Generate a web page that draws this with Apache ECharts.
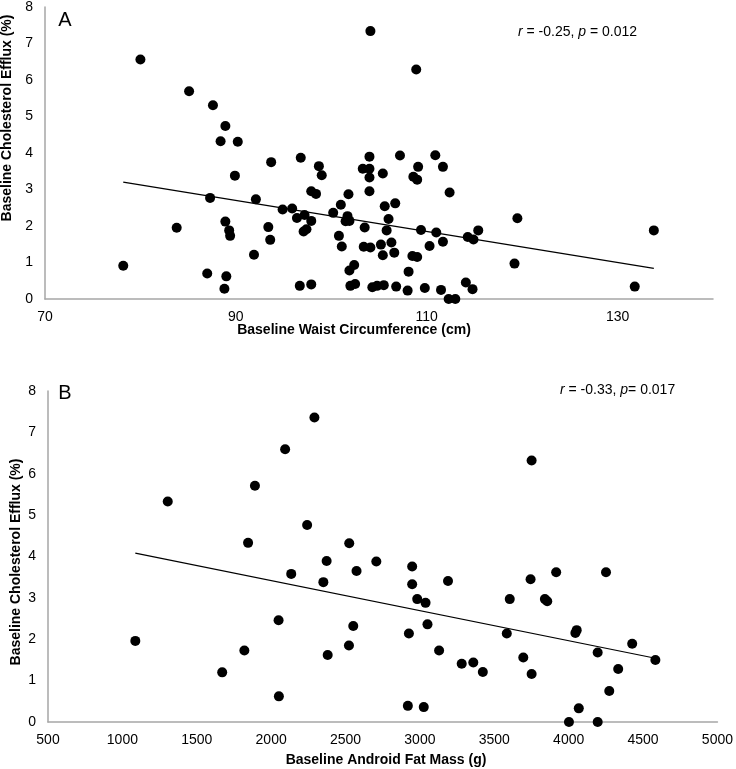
<!DOCTYPE html>
<html>
<head>
<meta charset="utf-8">
<script src="https://cdn.jsdelivr.net/npm/echarts@6/dist/echarts.min.js"></script>
<style>
html,body{margin:0;padding:0;background:#fff;}
#chart{width:736px;height:769px;}
</style>
</head>
<body>
<div id="chart"></div>
<script>
// Panel A: Baseline Waist Circumference (cm) vs Baseline Cholesterol Efflux (%)
const waistA = [78.2,80.0,83.8,85.1,87.6,87.0,87.3,88.4,88.9,88.9,89.0,88.8,89.3,89.4,90.2,89.9,91.9,92.1,93.4,93.6,93.7,94.9,95.9,96.8,96.4,97.2,97.1,97.4,96.7,97.9,97.9,97.9,98.4,98.7,99.0,100.2,100.8,101.1,101.0,101.8,101.7,101.5,101.9,101.9,102.4,102.0,102.5,103.3,104.0,103.5,103.4,104.1,104.0,104.0,105.4,104.0,105.6,106.7,106.0,105.8,105.2,105.4,106.3,106.6,107.2,104.3,104.8,105.5,106.8,110.9,109.1,111.7,108.6,109.0,112.4,109.4,111.0,111.7,110.3,114.3,114.9,115.4,119.5,119.2,108.5,109.0,108.1,108.0,109.8,111.5,112.3,113.0,114.1,114.8,104.1,108.9,131.8,133.8];
const effluxA = [0.91,6.56,1.95,5.69,5.31,0.70,2.77,4.32,4.74,2.12,0.62,0.28,1.88,1.73,4.31,3.38,1.21,2.73,1.97,1.62,3.75,2.45,2.48,3.87,2.22,2.30,1.85,1.91,0.36,0.40,2.14,2.95,2.88,3.64,3.39,2.36,1.73,1.44,2.58,2.87,2.27,2.13,2.14,0.78,0.93,0.36,0.41,3.57,3.57,1.96,1.43,1.41,3.90,3.33,3.44,2.95,2.54,2.62,2.19,1.88,1.49,1.20,1.55,1.27,3.93,0.32,0.36,0.38,0.34,3.94,3.62,3.62,3.35,3.27,2.92,1.89,1.82,1.57,1.45,1.70,1.63,1.88,2.21,0.97,1.18,1.15,0.75,0.23,0.30,0.25,0.00,0.00,0.45,0.27,7.34,6.29,0.34,1.88];
const fitA_x = [78.2, 133.8];
const fitA_y = [3.20, 0.84];
const xTicksA = [70, 90, 110, 130];

// Panel B: Baseline Android Fat Mass (g) vs Baseline Cholesterol Efflux (%)
const fatB = [1087,1305,1671,1820,1845,1891,2050,2052,2094,2135,2242,2291,2351,2373,2380,2523,2525,2552,2574,2707,2948,2948,2982,3038,3051,2926,3129,3189,3281,3359,3423,2919,3026,3584,3604,3695,3744,3751,3751,3840,3856,3916,4002,4045,4054,4068,4195,4195,4251,4273,4333,4427,4583];
const effluxB = [1.96,5.33,1.20,1.73,4.33,5.71,2.46,0.62,6.59,3.58,4.76,7.36,3.38,3.89,1.62,1.85,4.32,2.32,3.65,3.88,3.76,3.33,2.97,2.88,2.36,2.14,1.73,3.41,1.41,1.44,1.21,0.39,0.36,2.14,2.97,1.56,3.45,1.16,6.32,2.97,2.92,3.62,0.00,2.15,2.22,0.33,1.68,0.00,3.62,0.75,1.28,1.89,1.50];
const fitB_x = [1087, 4583];
const fitB_y = [4.08, 1.54];

const yTicks = [0,1,2,3,4,5,6,7,8];

const FONT = '"Liberation Sans", Arial, sans-serif';
const zip = (xs, ys) => xs.map((x, i) => [x, ys[i]]);

const axisLineStyle = {show: true, lineStyle: {color: '#a6a6a6', width: 1.5}};
const labelStyle = {color: '#000', fontFamily: FONT, fontSize: 14};

const chart = echarts.init(document.getElementById('chart'), null, {renderer: 'canvas'});
chart.setOption({
  animation: false,
  backgroundColor: '#fff',
  grid: [
    {left: 45, right: 23, top: 5, height: 294},
    {left: 48, right: 15, top: 391, height: 331}
  ],
  xAxis: [
    {gridIndex: 0, type: 'value', min: 70, max: 140, interval: 10,
     axisLine: axisLineStyle, axisTick: {show: false}, splitLine: {show: false},
     axisLabel: Object.assign({margin: 11, formatter: v => xTicksA.includes(v) ? String(v) : ''}, labelStyle)},
    {gridIndex: 1, type: 'value', min: 500, max: 5000, interval: 500,
     axisLine: axisLineStyle, axisTick: {show: false}, splitLine: {show: false},
     axisLabel: Object.assign({margin: 11, formatter: v => String(v)}, labelStyle)}
  ],
  yAxis: [
    {gridIndex: 0, type: 'value', min: 0, max: 8, interval: 1,
     axisLine: axisLineStyle, axisTick: {show: false}, splitLine: {show: false},
     axisLabel: Object.assign({margin: 12, formatter: v => yTicks.includes(v) ? String(v) : ''}, labelStyle)},
    {gridIndex: 1, type: 'value', min: 0, max: 8, interval: 1,
     axisLine: axisLineStyle, axisTick: {show: false}, splitLine: {show: false},
     axisLabel: Object.assign({margin: 12, formatter: v => yTicks.includes(v) ? String(v) : ''}, labelStyle)}
  ],
  series: [
    {type: 'scatter', xAxisIndex: 0, yAxisIndex: 0, symbolSize: 10,
     itemStyle: {color: '#000', opacity: 1}, data: zip(waistA, effluxA), z: 3},
    {type: 'line', xAxisIndex: 0, yAxisIndex: 0, showSymbol: false, symbol: 'none',
     lineStyle: {color: '#000', width: 1.2}, data: zip(fitA_x, fitA_y), z: 2},
    {type: 'scatter', xAxisIndex: 1, yAxisIndex: 1, symbolSize: 10,
     itemStyle: {color: '#000', opacity: 1}, data: zip(fatB, effluxB), z: 3},
    {type: 'line', xAxisIndex: 1, yAxisIndex: 1, showSymbol: false, symbol: 'none',
     lineStyle: {color: '#000', width: 1.2}, data: zip(fitB_x, fitB_y), z: 2}
  ],
  graphic: [
    {type: 'text', x: 65, y: 20, style: {text: 'A', fontFamily: FONT, fontSize: 20, fill: '#000', textAlign: 'center', textVerticalAlign: 'middle'}},
    {type: 'text', x: 65, y: 393, style: {text: 'B', fontFamily: FONT, fontSize: 20, fill: '#000', textAlign: 'center', textVerticalAlign: 'middle'}},
    {type: 'text', x: 518, y: 32, style: {
      text: '{i|r} = -0.25, {i|p} = 0.012', fontFamily: FONT, fontSize: 14, fill: '#000', textVerticalAlign: 'middle',
      rich: {i: {fontStyle: 'italic', fontFamily: FONT, fontSize: 14}}}},
    {type: 'text', x: 560, y: 390, style: {
      text: '{i|r} = -0.33, {i|p}= 0.017', fontFamily: FONT, fontSize: 14, fill: '#000', textVerticalAlign: 'middle',
      rich: {i: {fontStyle: 'italic', fontFamily: FONT, fontSize: 14}}}},
    {type: 'text', x: 354, y: 330, style: {text: 'Baseline Waist Circumference (cm)', fontFamily: FONT, fontWeight: 'bold', fontSize: 14, fill: '#000', textAlign: 'center', textVerticalAlign: 'middle'}},
    {type: 'text', x: 386, y: 760, style: {text: 'Baseline Android Fat Mass (g)', fontFamily: FONT, fontWeight: 'bold', fontSize: 14, fill: '#000', textAlign: 'center', textVerticalAlign: 'middle'}},
    {type: 'text', x: 7, y: 118, rotation: Math.PI / 2, style: {text: 'Baseline Cholesterol Efflux (%)', fontFamily: FONT, fontWeight: 'bold', fontSize: 14, fill: '#000', textAlign: 'center', textVerticalAlign: 'middle'}},
    {type: 'text', x: 16, y: 562, rotation: Math.PI / 2, style: {text: 'Baseline Cholesterol Efflux (%)', fontFamily: FONT, fontWeight: 'bold', fontSize: 14, fill: '#000', textAlign: 'center', textVerticalAlign: 'middle'}}
  ]
});
</script>
</body>
</html>
